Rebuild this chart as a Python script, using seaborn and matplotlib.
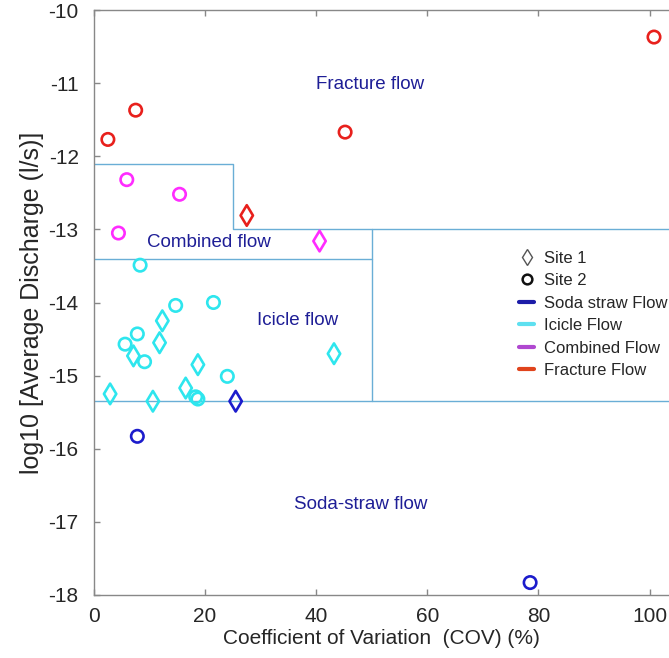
import matplotlib
matplotlib.use("Agg")
import matplotlib.pyplot as plt
import seaborn as sns
import pandas as pd
from matplotlib.lines import Line2D

sns.set_theme(style="white")
plt.rcParams['font.family'] = ['Liberation Sans', 'DejaVu Sans']
plt.rcParams['axes.unicode_minus'] = False

# ---- data ----
site2_cov = [100.8, 7.5, 2.5, 45.2,
             5.9, 15.4, 4.4,
             8.3, 14.7, 21.5, 7.8, 5.6, 9.1, 24.0, 18.3, 18.7,
             7.8, 78.5]
site2_q = [-10.37, -11.37, -11.77, -11.67,
           -12.32, -12.52, -13.05,
           -13.49, -14.04, -14.00, -14.43, -14.57, -14.81, -15.01, -15.29, -15.32,
           -15.83, -17.83]
site2_flow = ["Fracture"] * 4 + ["Combined"] * 3 + ["Icicle"] * 9 + ["Soda straw"] * 2

site1_cov = [27.5, 40.6,
             12.3, 11.8, 7.1, 43.2, 18.7, 2.9, 16.5, 10.6,
             25.5]
site1_q = [-12.81, -13.16,
           -14.25, -14.55, -14.73, -14.70, -14.85, -15.25, -15.17, -15.35,
           -15.35]
site1_flow = ["Fracture", "Combined"] + ["Icicle"] * 8 + ["Soda straw"]

flow_colors = {"Fracture": "#e8201c", "Combined": "#ff2cff",
               "Icicle": "#2ee6ee", "Soda straw": "#1c1ccc"}
legend_colors = {"Soda straw Flow": "#1c1ca8", "Icicle Flow": "#5ee0f0",
                 "Combined Flow": "#b048d0", "Fracture Flow": "#e0441c"}

region_labels = ["Fracture flow", "Combined flow", "Icicle flow", "Soda-straw flow"]
region_x = [49.7, 20.7, 36.6, 48.0]
region_y = [-11.02, -13.18, -14.25, -16.76]

df = pd.DataFrame({
    "cov": site2_cov + site1_cov,
    "q": site2_q + site1_q,
    "site": ["Site 2"] * len(site2_cov) + ["Site 1"] * len(site1_cov),
    "flow": site2_flow + site1_flow,
})

W, H = 669, 658
fig = plt.figure(figsize=(W / 100, H / 100), dpi=100)
ax = fig.add_axes([94 / W, (H - 595) / H, (W - 94) / W, (595 - 10) / H])

line_c = "#6aaed6"
# region boundaries
ax.plot([0, 25, 25, 110], [-12.1, -12.1, -13.0, -13.0], color=line_c, lw=1.0, zorder=1)
ax.plot([0, 50, 50], [-13.4, -13.4, -15.35], color=line_c, lw=1.0, zorder=1)
ax.plot([50, 50], [-13.0, -13.4], color=line_c, lw=1.0, zorder=1)
ax.plot([0, 110], [-15.35, -15.35], color=line_c, lw=1.0, zorder=1)

for site, mk, ms in [("Site 2", "o", 80), ("Site 1", "d", 110)]:
    sub = df[df.site == site]
    sns.scatterplot(data=sub, x="cov", y="q", hue="flow", palette=flow_colors,
                    marker=mk, s=ms, ax=ax, legend=False, zorder=3,
                    facecolor="none", linewidth=1.9)
for coll in ax.collections:
    fc = coll.get_facecolors()
    if len(fc):
        coll.set_edgecolors(fc)
        coll.set_facecolors("none")

for lab, x, y in zip(region_labels, region_x, region_y):
    ax.text(x, y, lab, color="#1e1e96", fontsize=13.5, ha="center", va="center")

ax.set_xlim(0, 103.5)
ax.set_ylim(-18, -10)
ax.set_xticks([0, 20, 40, 60, 80, 100])
ax.set_yticks(list(range(-18, -9)))
ax.tick_params(axis="both", direction="in", length=4, width=1, color="#888888",
               labelsize=15, top=True, bottom=True, left=True)
ax.tick_params(axis="y", pad=11)
ax.tick_params(axis="x", pad=9)
for s in ["left", "bottom", "top"]:
    ax.spines[s].set_color("#888888")
    ax.spines[s].set_linewidth(1.0)
ax.spines["right"].set_visible(False)

ax.set_xlabel("Coefficient of Variation  (COV) (%)", fontsize=15, labelpad=2)
ax.set_ylabel("log10 [Average Discharge (l/s)]", fontsize=18, labelpad=3)

handles = [
    Line2D([], [], marker="d", ls="none", mfc="none", mec="#555555", ms=8, mew=1.0),
    Line2D([], [], marker="o", ls="none", mfc="none", mec="#111111", ms=7, mew=1.8),
]
labels = ["Site 1", "Site 2"]
for k, c in legend_colors.items():
    handles.append(Line2D([], [], color=c, lw=3))
    labels.append(k)
ax.legend(handles, labels, loc="upper left", bbox_to_anchor=(0.728, 0.60),
          frameon=False, fontsize=12, handlelength=0.9, handletextpad=0.6,
          labelspacing=0.45, borderaxespad=0)

fig.savefig("out.png", dpi=100)
